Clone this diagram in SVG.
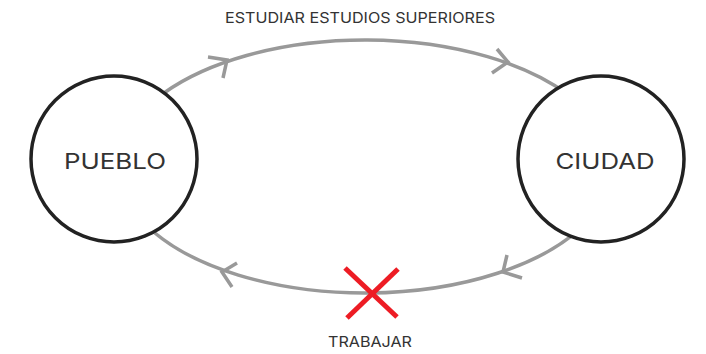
<svg xmlns="http://www.w3.org/2000/svg" width="706" height="354" viewBox="0 0 706 354">
<style>
.arc{fill:none;stroke:#999;stroke-width:3.5;stroke-linecap:butt}
.chev{fill:none;stroke:#999;stroke-width:3.5;stroke-linejoin:miter}
.node{fill:#fff;stroke:#222;stroke-width:3.5}
.lbl{font-family:Inter,"Open Sans","DejaVu Sans",sans-serif;fill:#333;text-anchor:middle}
.x{stroke:#ED1C24;stroke-width:5;stroke-linecap:butt}
</style>
<rect width="706" height="354" fill="#fff"/>
<g id="connectors">
<path class="arc" d="M164,93 A247,126.5 0 0 1 568.7,95"/>
<path class="arc" d="M578.6,230 A247,126.5 0 0 1 154.9,233"/>
<path class="chev" d="M208,57 L227,60 L223,78"/>
<path class="chev" d="M497,49 L508,62 L492,73"/>
<path class="chev" d="M237,263 L222,272 L232,287"/>
<path class="chev" d="M507,255 L503,272 L522,278"/>
<text class="lbl" x="360" y="23" font-size="14.5" textLength="270" lengthAdjust="spacingAndGlyphs">ESTUDIAR ESTUDIOS SUPERIORES</text>
<text class="lbl" x="370" y="347" font-size="14.5" textLength="84" lengthAdjust="spacingAndGlyphs">TRABAJAR</text>
<g id="blocked">
<line class="x" x1="345" y1="268" x2="397" y2="317"/>
<line class="x" x1="398" y1="269" x2="347" y2="318"/>
</g>
</g>
<g id="pueblo">
<circle class="node" cx="114" cy="159" r="83"/>
<text class="lbl" x="115" y="169" font-size="22" textLength="102" lengthAdjust="spacingAndGlyphs">PUEBLO</text>
</g>
<g id="ciudad">
<circle class="node" cx="601" cy="159" r="83"/>
<text class="lbl" x="605" y="169" font-size="22" textLength="99" lengthAdjust="spacingAndGlyphs">CIUDAD</text>
</g>
</svg>
